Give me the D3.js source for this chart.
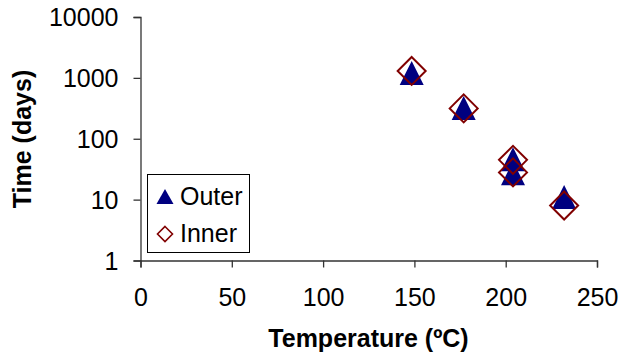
<!DOCTYPE html>
<html><head><meta charset="utf-8">
<script src="https://cdn.jsdelivr.net/npm/d3@7"></script>
<style>
body{margin:0;background:#fff;}
svg text{font-family:"Liberation Sans",Arial,sans-serif;}
</style></head>
<body><svg id="c" width="619" height="358"></svg>
<script>
const outerTemp = [148.5, 177, 204, 204, 232];
const outerTime = [1200, 320, 46, 27, 11];
const innerTemp = [148.5, 177, 204, 204, 232];
const innerTime = [1300, 315, 45, 28, 8];
const xTicks = [0, 50, 100, 150, 200, 250];
const yTicks = [1, 10, 100, 1000, 10000];
const seriesNames = ["Outer", "Inner"];

const svg = d3.select("#c");
const x = d3.scaleLinear().domain([0, 250]).range([140.5, 597]);
const y = d3.scaleLog().domain([1, 10000]).range([260.5, 17]);
const axisColor = "#333";

const gx = svg.append("g").attr("transform", "translate(0,260.5)")
  .call(d3.axisBottom(x).tickValues(xTicks).tickSizeOuter(0).tickSize(7).tickPadding(21).tickFormat(d3.format("d")));
const gy = svg.append("g").attr("transform", "translate(140.5,0)")
  .call(d3.axisLeft(y).tickValues(yTicks).tickSizeOuter(0).tickSize(7).tickPadding(15).tickFormat(d3.format("d")));
[gx, gy].forEach(g => {
  g.selectAll("path,line").attr("stroke", axisColor).attr("stroke-width", 1.3);
  g.selectAll("text").attr("font-size", 25).attr("fill", "#000").attr("font-family", "Liberation Sans, Arial, sans-serif");
});
gy.selectAll("text").attr("dy", "0.35em");

svg.append("text").attr("x", 368.5).attr("y", 347).attr("text-anchor", "middle")
  .attr("font-size", 25).attr("font-weight", "bold").text("Temperature (ºC)");
svg.append("text").attr("transform", "translate(31,139) rotate(-90)").attr("text-anchor", "middle")
  .attr("font-size", 25).attr("font-weight", "bold").text("Time (days)");

const tri = (s) => `M0,${-s}L${s},${s}L${-s},${s}Z`;
const dia = (s) => `M0,${-s}L${s},0L0,${s}L${-s},0Z`;

svg.append("g").selectAll("path").data(outerTemp.map((t, i) => [t, outerTime[i]])).join("path")
  .attr("transform", d => `translate(${x(d[0])},${y(d[1])})`)
  .attr("d", tri(12)).attr("fill", "#000080");
svg.append("g").selectAll("path").data(innerTemp.map((t, i) => [t, innerTime[i]])).join("path")
  .attr("transform", d => `translate(${x(d[0])},${y(d[1])})`)
  .attr("d", dia(14)).attr("fill", "none").attr("stroke", "#800000").attr("stroke-width", 2);

// legend
const lg = svg.append("g");
lg.append("rect").attr("x", 147.5).attr("y", 174.5).attr("width", 102).attr("height", 78)
  .attr("fill", "#fff").attr("stroke", "#000").attr("stroke-width", 1);
lg.append("path").attr("transform", "translate(165,197)").attr("d", "M0,-8L8.5,7L-8.5,7Z").attr("fill", "#000080");
lg.append("path").attr("transform", "translate(165,234)").attr("d", dia(7.5)).attr("fill", "none").attr("stroke", "#800000").attr("stroke-width", 1.6);
lg.append("text").attr("x", 180).attr("y", 205).attr("font-size", 25).text(seriesNames[0]);
lg.append("text").attr("x", 180).attr("y", 242).attr("font-size", 25).text(seriesNames[1]);
</script></body></html>
